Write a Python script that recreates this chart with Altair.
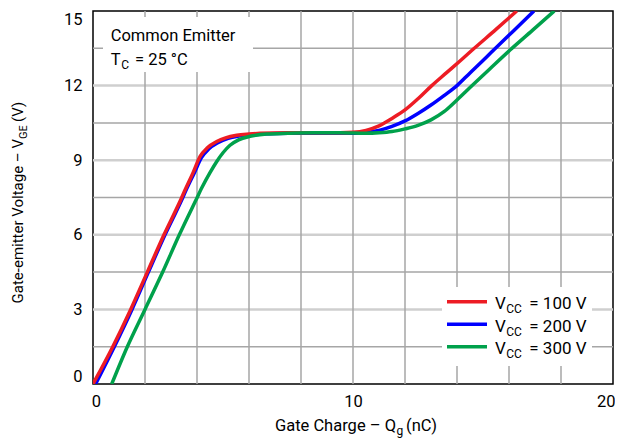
import altair as alt
import pandas as pd

# ---- data ----
q_100 = [0, 0.76, 1.45, 2.09, 2.73, 3.37, 3.54, 3.85, 4.12, 4.4, 4.76, 5.1, 5.53, 6.0, 6.42, 7.5, 8.5, 9.5,
         10.0, 10.5, 11.0, 11.5, 12.0, 12.5, 13.03, 13.6, 14.18, 14.63, 15.5, 16.3]
v_100 = [0, 1.5, 3.0, 4.5, 6.0, 7.4, 7.8, 8.5, 9.15, 9.5, 9.75, 9.9, 10.0, 10.05, 10.08, 10.1, 10.1, 10.1,
         10.12, 10.2, 10.38, 10.68, 11.02, 11.47, 12.0, 12.52, 13.05, 13.47, 14.26, 15.0]

q_200 = [0.1, 0.82, 1.5, 2.13, 2.77, 3.41, 3.58, 3.9, 4.17, 4.45, 4.8, 5.2, 5.6, 6.0, 6.5, 7.5, 8.5, 9.5,
         10.0, 10.5, 11.04, 11.5, 12.0, 12.5, 13.0, 13.5, 14.0, 14.5, 14.95, 15.33, 16.2, 16.96]
v_200 = [0, 1.5, 3.0, 4.5, 6.0, 7.4, 7.8, 8.5, 9.1, 9.45, 9.7, 9.88, 9.97, 10.02, 10.05, 10.08, 10.08, 10.08,
         10.08, 10.12, 10.21, 10.36, 10.58, 10.88, 11.22, 11.6, 12.0, 12.51, 12.96, 13.35, 14.23, 15.0]

q_300 = [0.72, 1.32, 2.0, 2.68, 3.32, 3.96, 4.2, 4.5, 4.76, 5.0, 5.27, 5.6, 6.04, 6.68, 7.5, 8.5, 9.5,
         10.5, 11.0, 11.5, 12.0, 12.5, 13.0, 13.5, 14.0, 14.5, 15.27, 16.04, 16.9, 17.74]
v_300 = [0, 1.5, 3.0, 4.5, 6.0, 7.4, 7.92, 8.5, 8.95, 9.3, 9.6, 9.82, 9.96, 10.05, 10.08, 10.1, 10.1,
         10.08, 10.1, 10.15, 10.26, 10.4, 10.62, 10.95, 11.42, 11.92, 12.68, 13.43, 14.22, 15.0]

series_values = ["= 100 V", "= 200 V", "= 300 V"]
series_colors = ["#ed1c24", "#0000ff", "#00a14b"]

x_ticks = [0, 10, 20]
y_ticks = [0, 3, 6, 9, 12, 15]
x_grid = [2, 4, 6, 8, 10, 12, 14, 16, 18]
y_grid_major = [3, 6, 9, 12]
y_grid_minor = [1.5, 4.5, 7.5, 10.5, 13.5]

FONT = "Roboto, Liberation Sans, sans-serif"

xs = alt.Scale(domain=[0, 20], nice=False, zero=False)
ys = alt.Scale(domain=[0, 15], nice=False, zero=False)
xaxis = alt.Axis(values=x_ticks, grid=False, ticks=False, domain=False, labelFontSize=16.5,
                 labelFont=FONT, labelColor="black", labelPadding=9, labelFlush=False,
                 labelAlign=alt.ExprRef(expr="datum.value == 20 ? 'right' : 'center'"),
                 labelOffset=alt.ExprRef(expr="datum.value == 0 ? 3 : (datum.value == 20 ? 2 : 0)"),
                 title=None)
yaxis = alt.Axis(values=y_ticks, grid=False, ticks=False, domain=False, labelFontSize=16.5,
                 labelFont=FONT, labelColor="black", labelPadding=11, labelFlush=True, title=None)

def X():
    return alt.X("q:Q", scale=xs, axis=xaxis)

def Y():
    return alt.Y("v:Q", scale=ys, axis=yaxis)

one = pd.DataFrame({"a": [0]})

layers = []
# grid
layers.append(alt.Chart(pd.DataFrame({"v": y_grid_major})).mark_rule(color="#cfcfcf", strokeWidth=2.5).encode(y=Y()))
layers.append(alt.Chart(pd.DataFrame({"v": y_grid_minor})).mark_rule(color="#a6a6a6", strokeWidth=1.5).encode(y=Y()))
layers.append(alt.Chart(pd.DataFrame({"q": x_grid})).mark_rule(color="#a6a6a6", strokeWidth=1.5).encode(x=X()))

# white boxes behind annotation and legend
layers.append(alt.Chart(one).mark_rect(color="white").encode(
    x=alt.value(10), x2=alt.value(160), y=alt.value(6), y2=alt.value(61)))
layers.append(alt.Chart(one).mark_rect(color="white").encode(
    x=alt.value(349), x2=alt.value(499), y=alt.value(276), y2=alt.value(355)))

# curves
curves = [(q_200, v_200, series_colors[1]), (q_100, v_100, series_colors[0]), (q_300, v_300, series_colors[2])]
for qq, vv, col in curves:
    df = pd.DataFrame({"q": qq, "v": vv})
    layers.append(alt.Chart(df).mark_line(interpolate="monotone", strokeWidth=3.5, color=col, clip=True)
                  .encode(x=X(), y=Y()))

def txt(text, x, y, size, align="left", dy=0, angle=0):
    kw = dict(text=text, align=align, baseline="alphabetic", fontSize=size, font=FONT, color="black", dy=dy)
    if angle:
        kw["angle"] = angle
    return alt.Chart(one).mark_text(**kw).encode(x=alt.value(x), y=alt.value(y))

# annotation
layers.append(txt("Common Emitter", 17.7, 29.7, 16.5))
layers.append(txt("T", 17.7, 54, 16.5))
layers.append(txt("C", 28.2, 54, 12, dy=4))
layers.append(txt("= 25 °C", 42, 54, 16.5))

# legend
row_line_y = [290.7, 313.3, 335.7]
row_text_y = [298.3, 320.7, 343.0]
for i in range(3):
    layers.append(alt.Chart(one).mark_rule(color=series_colors[i], strokeWidth=3.5).encode(
        x=alt.value(354), x2=alt.value(394), y=alt.value(row_line_y[i])))
    layers.append(txt("V", 402, row_text_y[i], 17))
    layers.append(txt("CC", 413.2, row_text_y[i], 12, dy=4))
    layers.append(txt(series_values[i], 436.3, row_text_y[i], 17))

# axis titles
layers.append(txt("Gate Charge – Q", 303, 420, 16.5, align="right"))
layers.append(txt("g", 303.5, 420, 12, dy=4))
layers.append(txt("(nC)", 313, 420, 16.5))

layers.append(txt("Gate-emitter Voltage – V", -70, 128, 15, align="right", angle=270))
layers.append(txt("GE", -70, 128, 11, dy=4, angle=270))
layers.append(txt("(V)", -70, 111, 15, angle=270))

chart = alt.layer(*layers).properties(
    width=520, height=373,
    padding={"left": 85, "top": 3, "right": 2, "bottom": 54},
    autosize=alt.AutoSizeParams(type="none"),
).configure_view(stroke="black", strokeWidth=1.5)

chart.save("out.html", embed_options={"renderer": "svg", "actions": False})
